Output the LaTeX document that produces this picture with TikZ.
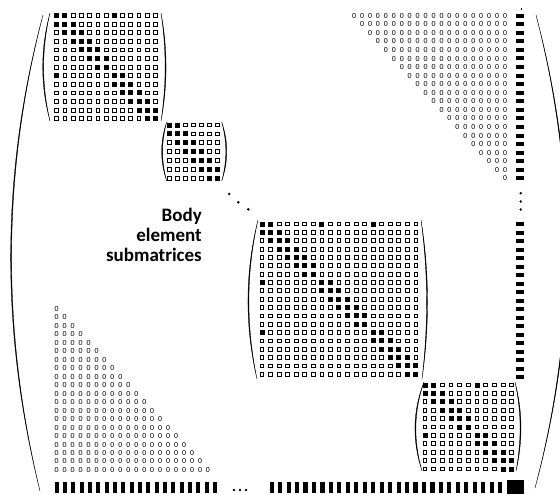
\documentclass[tikz,border=0pt]{standalone}
\usepackage{fontspec}
\setmainfont{Carlito}
\tikzset{
  emptysq/.style={draw=black, line width=0.85pt},
  fullsq/.style={fill=black},
  zerotxt/.style={font=\fontsize{7.8}{7.8}\selectfont, inner sep=0pt},
  colbar/.style={fill=black},
  rowbar/.style={fill=black},
  elldot/.style={fill=black},
  parenfill/.style={fill=black, draw=black, line width=0.35pt},
  labeltxt/.style={font=\fontsize{19}{20}\selectfont\bfseries, inner sep=0pt, anchor=base east},
}
\newcommand\matblock[6]{%
  \foreach \i in {1,...,#5}{\foreach \j in {1,...,#5}{%
    \draw[emptysq] ({#1+(\j-1)*#3-1.9},{#2+(\i-1)*#4-1.9}) rectangle ++(3.8,3.8);
  }}%
  \foreach \i/\j in {#6}{%
    \fill[fullsq] ({#1+(\j-1)*#3-2.5},{#2+(\i-1)*#4-2.5}) rectangle ++(5,5);
  }%
}
\newcommand\parenshape[6]{%
  \filldraw[parenfill] (#1,#2) .. controls (#5,{#2+(#4-#2)/3}) and (#5,{#4-(#4-#2)/3}) .. (#3,#4)
     .. controls (#6,{#4-(#4-#2)/3}) and (#6,{#2+(#4-#2)/3}) .. (#1,#2) -- cycle;
}
\begin{document}
\begin{tikzpicture}[x=1pt,y=-1pt]
\useasboundingbox (0,0) rectangle (560,495);
\clip (0,0) rectangle (560,495);
% outer parentheses
\parenshape{43}{15}{40}{491}{0.4}{1.6}
\parenshape{536}{15}{535}{488}{578}{576.8}
% top-left block
\matblock{56.7}{15.5}{8.23}{8.6}{13}{1/1,1/2,1/8, 2/1,2/2,2/3, 3/2,3/3,3/4, 4/3,4/4,4/5, 5/4,5/5,5/6, 6/5,6/6,6/7, 7/6,7/7, 8/1,8/8,8/9, 9/8,9/9,9/10, 10/9,10/10,10/11, 11/10,11/11,11/12, 12/11,12/12,12/13, 13/12,13/13}
\parenshape{50}{13}{50}{121}{40.3}{41.5}
\parenshape{161}{13}{161}{121}{167.7}{166.5}
% small block
\matblock{169.3}{125}{8.0}{8.85}{7}{1/1,1/2, 2/1,2/2,2/3, 3/2,3/3,3/4, 4/3,4/4,4/5, 5/4,5/5,5/6, 6/5,6/6,6/7, 7/6,7/7}
\parenshape{166.7}{122}{166.7}{181}{160}{161.2}
\parenshape{221.7}{122}{221.7}{181}{228.4}{227.2}
% diagonal dots
\fill[elldot] (229.3,194) circle (1.4);
\fill[elldot] (238.3,202.3) circle (1.4);
\fill[elldot] (248.3,209.3) circle (1.4);
% big block
\matblock{262}{224}{8.55}{8.35}{19}{1/1,1/2,1/8,1/14, 2/1,2/2,2/3, 3/2,3/3,3/4, 4/3,4/4,4/5, 5/4,5/5,5/6, 6/5,6/6,6/7, 7/6,7/7, 8/1,8/8,8/9, 9/8,9/9,9/10, 10/9,10/10,10/11, 11/10,11/11,11/12, 12/11,12/12,12/13, 13/12,13/13, 14/1,14/14,14/15, 15/14,15/15,15/16, 16/15,16/16,16/17, 17/16,17/17,17/18, 18/17,18/18,18/19, 19/18,19/19}
\parenshape{258}{220}{257}{379}{244.8}{246}
\parenshape{421}{220}{422}{379}{429.5}{428.3}
% bottom-right block
\matblock{425}{385}{8.67}{8.4}{11}{1/1,1/2,1/7, 2/1,2/2,2/3, 3/2,3/3,3/4, 4/3,4/4,4/5, 5/4,5/5,5/6, 6/5,6/6, 7/1,7/7,7/8, 8/7,8/8,8/9, 9/8,9/9,9/10, 10/9,10/10,10/11, 11/10,11/11}
\parenshape{424}{382}{422}{471}{412.3}{413.5}
\parenshape{515}{382}{516}{471}{522.8}{521.6}
% zero triangles
\foreach \k in {1,...,20}{\foreach \j in {\k,...,20}{%
  \node[zerotxt] (tr\k-\j) at ({505-(20-\j)*7.94},{15.7+(\k-1)*8.56}) {0};
}}
\foreach \k in {1,...,20}{\foreach \j in {1,...,\k}{%
  \node[zerotxt] (bl\k-\j) at ({56.7+(\j-1)*7.96},{309+(\k-1)*8.47}) {0};
}}
% right column
\fill[colbar] (520.5,8) rectangle (521.5,10.5);
\foreach \k in {0,...,19}{\fill[colbar] (516,{15.7+\k*8.56-2}) rectangle ++(7.5,4);}
\fill[elldot] (520.7,193.3) circle (1.4);
\fill[elldot] (520.7,201.5) circle (1.4);
\fill[elldot] (520.7,209.5) circle (1.4);
\foreach \k in {0,...,18}{\fill[colbar] (516,{224+\k*8.5-2}) rectangle ++(7.5,4);}
% bottom row
\foreach \k in {0,...,19}{\fill[rowbar] ({56.7+\k*8.33-2.1},481.5) rectangle ++(4.2,11);}
\fill[elldot] (234,490) circle (1.3);
\fill[elldot] (240,490) circle (1.3);
\fill[elldot] (246,490) circle (1.3);
\foreach \k in {0,...,27}{\fill[rowbar] ({271.7+\k*8.46-2.1},481.5) rectangle ++(4.2,11);}
\fill[rowbar] (507,480) rectangle (524,494);
% label
\node[labeltxt] (t1) at (202,221.7) {Body};
\node[labeltxt] (t2) at (202,241.7) {element};
\node[labeltxt] (t3) at (202,261.7) {submatrices};
\end{tikzpicture}
\end{document}
